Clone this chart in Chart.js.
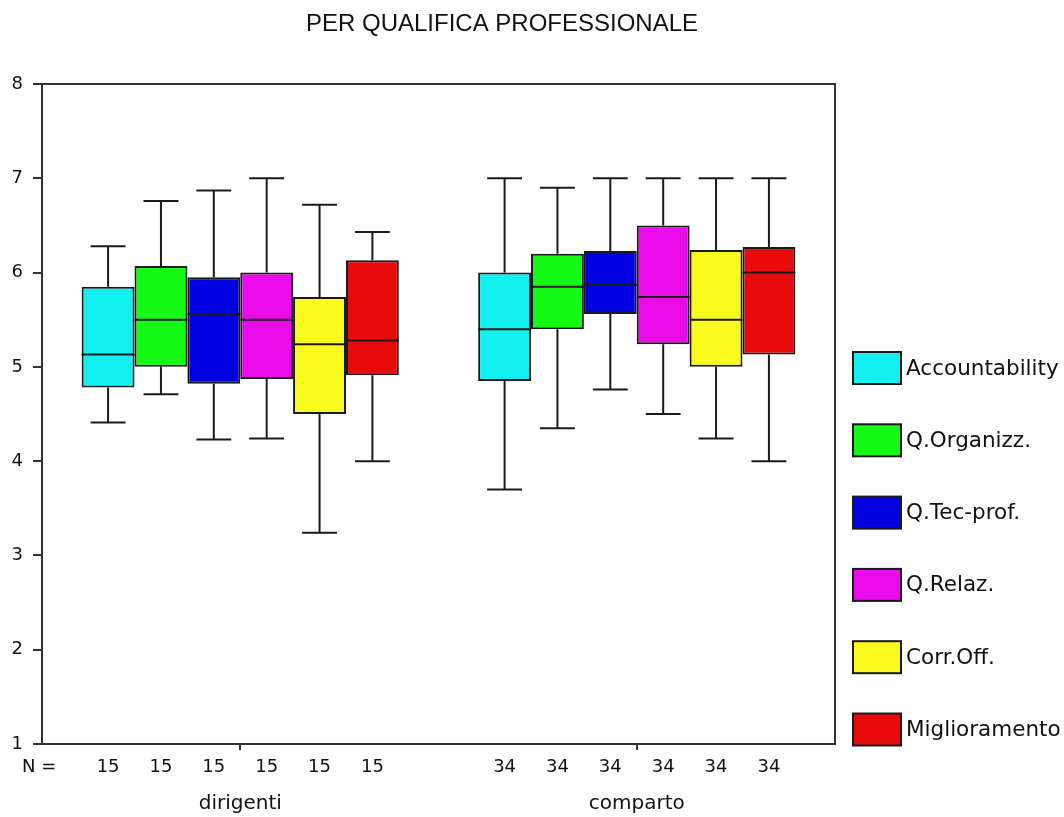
<!DOCTYPE html>
<html>
<head>
<meta charset="utf-8">
<script src="https://cdn.jsdelivr.net/npm/chart.js@4.4.1/dist/chart.umd.min.js"></script>
<style>
  body { margin: 0; background: #fff; }
</style>
</head>
<body>
<canvas id="boxChart" width="1064" height="817"></canvas>
<script>
// groups on the x axis and their sample sizes
const groups = ['dirigenti', 'comparto'];
const counts = [15, 34];

// one row per scale, columns follow groups
const scales = ['Accountability', 'Q.Organizz.', 'Q.Tec-prof.', 'Q.Relaz.', 'Corr.Off.', 'Miglioramento'];
const whiskerLow  = [[4.41, 3.70], [4.71, 4.35], [4.23, 4.76], [4.24, 4.50], [3.24, 4.24], [4.00, 4.00]];
const quartile1   = [[4.78, 4.85], [5.00, 5.40], [4.82, 5.56], [4.87, 5.24], [4.50, 5.00], [4.91, 5.13]];
const medians     = [[5.13, 5.40], [5.50, 5.85], [5.56, 5.87], [5.50, 5.74], [5.24, 5.50], [5.28, 6.00]];
const quartile3   = [[5.85, 6.00], [6.07, 6.20], [5.95, 6.23], [6.00, 6.50], [5.74, 6.24], [6.13, 6.27]];
const whiskerHigh = [[6.28, 7.00], [6.76, 6.90], [6.87, 7.00], [7.00, 7.00], [6.72, 7.00], [6.43, 7.00]];

const chartTitle = 'PER QUALIFICA PROFESSIONALE';
const colors = ['#12f0f0', '#14fa14', '#0000e0', '#ea0aea', '#fafa1e', '#e60a0a'];
const lineColor = '#1a1a1a';

const datasets = scales.map(function (label, i) {
    return {
        label: label,
        data: groups.map(function (g, j) { return [quartile1[i][j], quartile3[i][j]]; }),
        backgroundColor: colors[i],
        borderColor: lineColor,
        borderWidth: 2,
        borderSkipped: false
    };
});

// whiskers, medians, frame, title, N row and legend
const boxPlot = {
    id: 'boxPlot',
    afterDatasetsDraw(chart) {
        const ctx = chart.ctx;
        const y = chart.scales.y;
        ctx.save();
        ctx.strokeStyle = lineColor;
        ctx.lineWidth = 2;
        chart.data.datasets.forEach(function (ds, i) {
            chart.getDatasetMeta(i).data.forEach(function (bar, j) {
                const x = bar.x;
                const half = bar.width / 2;
                const cap = bar.width * 0.33;
                const yLo = y.getPixelForValue(whiskerLow[i][j]);
                const yQ1 = y.getPixelForValue(quartile1[i][j]);
                const yMed = y.getPixelForValue(medians[i][j]);
                const yQ3 = y.getPixelForValue(quartile3[i][j]);
                const yHi = y.getPixelForValue(whiskerHigh[i][j]);
                ctx.beginPath();
                ctx.moveTo(x, yQ3); ctx.lineTo(x, yHi);
                ctx.moveTo(x - cap, yHi); ctx.lineTo(x + cap, yHi);
                ctx.moveTo(x, yQ1); ctx.lineTo(x, yLo);
                ctx.moveTo(x - cap, yLo); ctx.lineTo(x + cap, yLo);
                ctx.moveTo(x - half, yMed); ctx.lineTo(x + half, yMed);
                ctx.stroke();
            });
        });
        ctx.restore();
    },
    afterDraw(chart) {
        const ctx = chart.ctx;
        const area = chart.chartArea;
        ctx.save();
        // frame round the plot
        ctx.strokeStyle = '#333';
        ctx.lineWidth = 2;
        ctx.beginPath();
        ctx.moveTo(area.left, area.top);
        ctx.lineTo(area.right, area.top);
        ctx.lineTo(area.right, area.bottom);
        ctx.stroke();

        // title
        ctx.fillStyle = '#111';
        ctx.font = '24px "Liberation Sans"';
        ctx.textAlign = 'center';
        ctx.textBaseline = 'middle';
        ctx.fillText(chartTitle, 502, 24);

        // N = row
        ctx.font = '18px "DejaVu Sans"';
        ctx.textAlign = 'left';
        ctx.fillText('N =', 22, 767);
        ctx.textAlign = 'center';
        chart.data.datasets.forEach(function (ds, i) {
            chart.getDatasetMeta(i).data.forEach(function (bar, j) {
                ctx.fillText(String(counts[j]), bar.x, 767);
            });
        });

        // legend on the right
        ctx.font = '21.5px "DejaVu Sans"';
        ctx.textAlign = 'left';
        chart.data.datasets.forEach(function (ds, i) {
            const top = 352 + i * 72.3;
            ctx.fillStyle = ds.backgroundColor;
            ctx.fillRect(853, top, 48, 32);
            ctx.strokeStyle = lineColor;
            ctx.lineWidth = 2;
            ctx.strokeRect(853, top, 48, 32);
            ctx.fillStyle = '#111';
            ctx.fillText(ds.label, 906, top + 17);
        });
        ctx.restore();
    }
};

new Chart(document.getElementById('boxChart'), {
    type: 'bar',
    data: { labels: groups, datasets: datasets },
    plugins: [boxPlot],
    options: {
        responsive: false,
        animation: false,
        layout: { padding: { left: 0, right: 229, top: 84, bottom: 0 } },
        datasets: {
            bar: { categoryPercentage: 0.8, barPercentage: 1.0 }
        },
        plugins: {
            legend: { display: false },
            tooltip: { enabled: false },
            title: { display: false }
        },
        scales: {
            x: {
                grid: { display: true, drawOnChartArea: false, offset: false, tickLength: 6, color: '#333', lineWidth: 2 },
                border: { color: '#333', width: 2 },
                ticks: {
                    color: '#111',
                    padding: 42,
                    font: { family: '"DejaVu Sans"', size: 20 }
                },
                afterFit(scale) { scale.height = 73; }
            },
            y: {
                min: 1,
                max: 8,
                grid: { display: true, drawOnChartArea: false, tickLength: 9, color: '#333', lineWidth: 2 },
                border: { color: '#333', width: 2 },
                ticks: {
                    stepSize: 1,
                    color: '#111',
                    padding: 10,
                    font: { family: '"DejaVu Sans"', size: 18 }
                },
                afterFit(scale) { scale.width = 42; }
            }
        }
    }
});
</script>
</body>
</html>
